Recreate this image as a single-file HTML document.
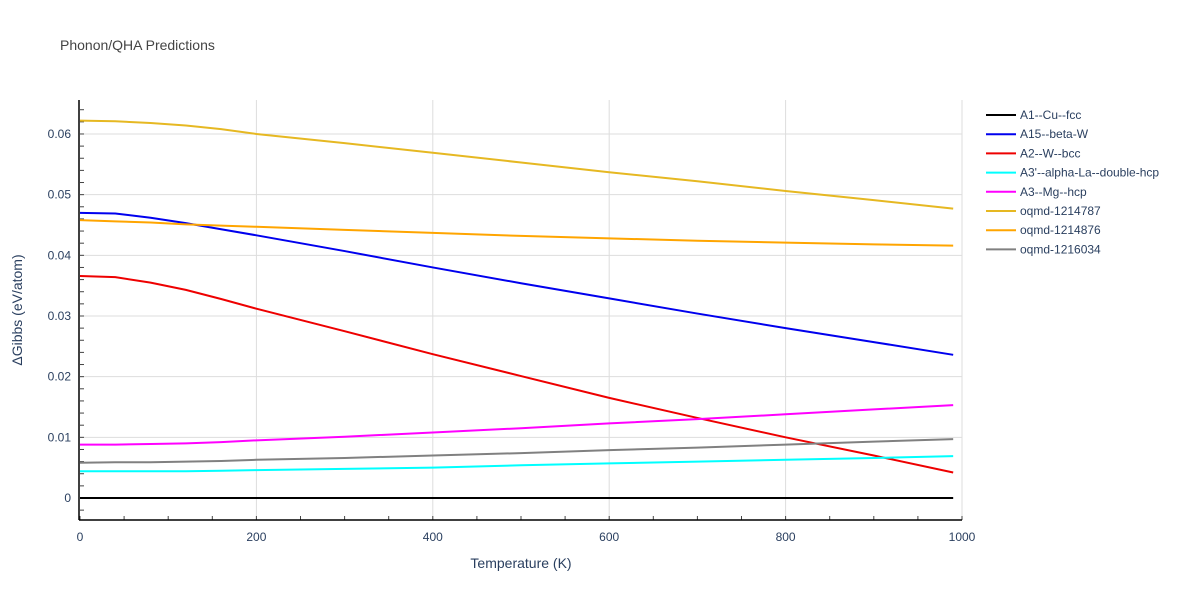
<!DOCTYPE html>
<html><head><meta charset="utf-8"><style>
body{margin:0;background:#fff;font-family:"Liberation Sans",sans-serif}
</style></head><body>
<svg id="chart" width="1200" height="600" xmlns="http://www.w3.org/2000/svg" font-family="Liberation Sans, sans-serif"></svg>
<script>
const temps=[0,40,80,120,160,200,300,400,500,600,700,800,900,990];
const seriesNames=["A1--Cu--fcc","A15--beta-W","A2--W--bcc","A3'--alpha-La--double-hcp","A3--Mg--hcp","oqmd-1214787","oqmd-1214876","oqmd-1216034"];
const seriesColors=["#000000","#0000ee","#ee0000","#00ffff","#ff00ff","#e6b822","#ffa500","#808080"];
const sA1=[0,0,0,0,0,0,0,0,0,0,0,0,0,0];
const sA15=[0.0470,0.0469,0.0462,0.0453,0.0443,0.0433,0.0407,0.0380,0.0354,0.0329,0.0304,0.0280,0.0257,0.0236];
const sA2=[0.0366,0.0364,0.0355,0.0343,0.0328,0.0312,0.0275,0.0237,0.0201,0.0165,0.0132,0.0100,0.0070,0.0042];
const sA3p=[0.0044,0.0044,0.0044,0.0044,0.0045,0.0046,0.0048,0.0050,0.0054,0.0057,0.0060,0.0063,0.0066,0.0069];
const sA3=[0.0088,0.0088,0.0089,0.0090,0.0092,0.0095,0.0101,0.0108,0.0115,0.0123,0.0130,0.0138,0.0146,0.0153];
const s787=[0.0622,0.0621,0.0618,0.0614,0.0608,0.0600,0.0585,0.0569,0.0553,0.0537,0.0522,0.0506,0.0491,0.0477];
const s876=[0.0458,0.0456,0.0454,0.0451,0.0449,0.0447,0.0442,0.0437,0.0432,0.0428,0.0424,0.0421,0.0418,0.0416];
const s034=[0.0058,0.0059,0.0059,0.0060,0.0061,0.0063,0.0066,0.0070,0.0074,0.0079,0.0083,0.0088,0.0093,0.0097];
const allSeries=[sA1,sA15,sA2,sA3p,sA3,s787,s876,s034];
const xTicks=[0,200,400,600,800,1000];
const yTicks=[0,0.01,0.02,0.03,0.04,0.05,0.06];
const yTickLabels=["0","0.01","0.02","0.03","0.04","0.05","0.06"];
const NS="http://www.w3.org/2000/svg";
const svg=document.getElementById('chart');
const L=80,R=962,T=100,B=520;
const X=v=>L+(v/1000)*(R-L);
const Y=v=>498-v*6067;
function el(t,a,p){const e=document.createElementNS(NS,t);for(const k in a)e.setAttribute(k,a[k]);(p||svg).appendChild(e);return e;}
const title=el('text',{x:60,y:50,'font-size':14,fill:'#444'});title.textContent='Phonon/QHA Predictions';

const grid=el('g',{});
xTicks.forEach(t=>{if(t>0)el('line',{x1:X(t),x2:X(t),y1:T,y2:B,stroke:'#ddd'},grid);
 const tx=el('text',{x:X(t),y:541,'text-anchor':'middle','font-size':12,fill:'#2a3f5f'});tx.textContent=t;
 });
yTicks.forEach((t,i)=>{if(t>0)el('line',{x1:L,x2:R,y1:Y(t),y2:Y(t),stroke:'#ddd'},grid);
 const tx=el('text',{x:71,y:Y(t)+4,'text-anchor':'end','font-size':12,fill:'#2a3f5f'});tx.textContent=yTickLabels[i];
 });
for(let v=-0.002;v<0.066;v+=0.002)el('line',{x1:L,x2:L+4,y1:Y(v),y2:Y(v),stroke:'#444'});
for(let v=0;v<=1000;v+=50)el('line',{x1:X(v),x2:X(v),y1:B,y2:B-4,stroke:'#444'});
const lines=el('g',{});
allSeries.forEach((s,i)=>{const p=el('polyline',{points:s.map((v,j)=>X(temps[j])+','+Y(v)).join(' '),fill:'none',stroke:seriesColors[i],'stroke-width':2},lines);
 });
el('line',{x1:79,x2:79,y1:T,y2:B,stroke:'#000','stroke-width':1.5});
el('line',{x1:79,x2:R,y1:B,y2:B,stroke:'#000','stroke-width':1.5});
const xt=el('text',{x:521,y:568,'text-anchor':'middle','font-size':14,fill:'#2a3f5f'});xt.textContent='Temperature (K)';

const yt=el('text',{x:22,y:310,'text-anchor':'middle','font-size':14,fill:'#2a3f5f',transform:'rotate(-90 22 310)'});yt.textContent='ΔGibbs (eV/atom)';

const leg=el('g',{});
seriesNames.forEach((n,i)=>{const y=115+i*19.2;const g=el('g',{},leg);
 
 el('line',{x1:986,x2:1016,y1:y,y2:y,stroke:seriesColors[i],'stroke-width':2},g);
 const t=el('text',{x:1020,y:y+4,'font-size':12,fill:'#2a3f5f'},g);t.textContent=n;});
</script>
</body></html>
